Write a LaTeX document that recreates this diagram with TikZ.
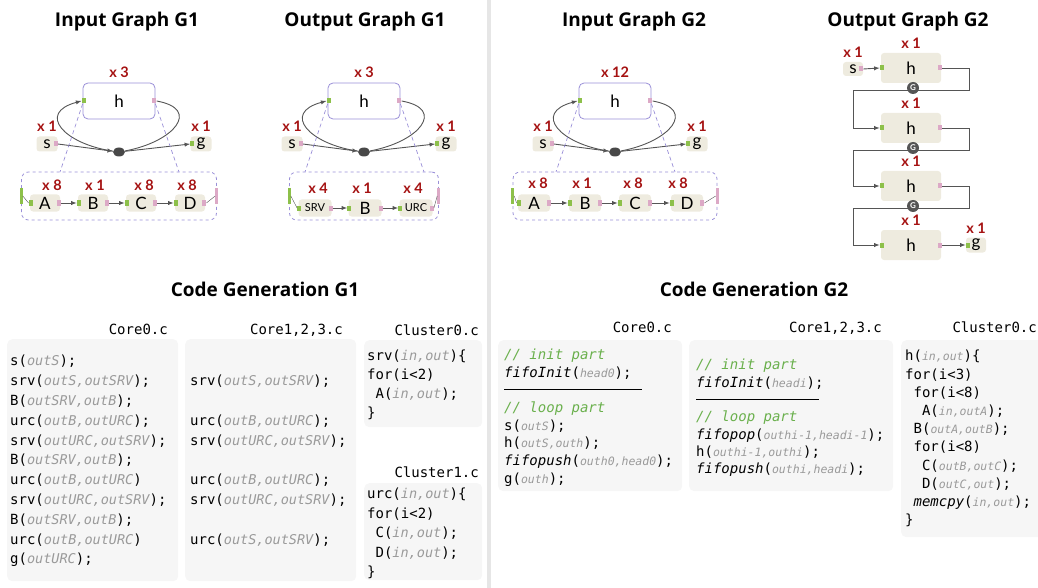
\documentclass[tikz,border=0pt]{standalone}
\usepackage{fontspec}
\setmainfont{Lato}
\setmonofont{DejaVu Sans Mono}
\newfontfamily\titlefont{Open Sans}
\usetikzlibrary{positioning,calc,shapes.geometric}

\definecolor{opfill}{HTML}{EEEBDF}
\definecolor{portgreen}{HTML}{8DC04A}
\definecolor{portpink}{HTML}{DCA9C6}
\definecolor{clpurple}{HTML}{9A90D8}
\definecolor{multred}{HTML}{A51212}
\definecolor{wiregray}{HTML}{555555}
\definecolor{codebg}{HTML}{F6F6F6}
\definecolor{argray}{HTML}{9A9A9A}
\definecolor{cmtgreen}{HTML}{6AB04C}
\definecolor{sepgray}{HTML}{E6E6E6}

\newcommand\fa[1]{{\fontsize{13.5}{13.5}\selectfont\itshape\color{argray}#1}}
\newcommand\fb[1]{{\fontsize{11.5}{11.5}\selectfont\itshape\color{argray}#1}}
\newcommand\cmt[1]{{\itshape\color{cmtgreen}#1}}
\newcommand\ind{\hphantom{x}}

\begin{document}
\begin{tikzpicture}[x=1pt,y=-1pt,
  wire/.style={draw=wiregray,line width=0.9pt},
  ar/.style={wire,->,>=latex},
  op/.style={rectangle,rounded corners=3pt,fill=opfill,inner sep=0pt,font=\fontsize{17}{17}\selectfont},
  hbox/.style={op,fill=white,draw=clpurple,line width=0.8pt,rounded corners=5pt,minimum width=72,minimum height=36},
  inport/.style={fill=portgreen,inner sep=0pt,minimum width=4,minimum height=5},
  outport/.style={fill=portpink,inner sep=0pt,minimum width=4,minimum height=5},
  dot/.style={ellipse,fill=wiregray!85!black,inner sep=0pt,minimum width=12,minimum height=9},
  mult/.style={text=multred,inner sep=0pt,font=\bfseries\fontsize{14.5}{14.5}\selectfont},
  title/.style={anchor=base,font=\titlefont\bfseries\fontsize{19}{19}\selectfont},
  cluster/.style={draw=clpurple,dashed,rounded corners=7pt,line width=0.8pt},
  zoomline/.style={draw=clpurple,dash pattern=on 4pt off 3pt,line width=0.7pt},
  gicon/.style={circle,fill=wiregray,text=white,inner sep=0pt,minimum size=12,font=\bfseries\fontsize{8}{8}\selectfont},
  codebox/.style={fill=codebg,rounded corners=5pt,inner sep=0pt,anchor=north west},
  code/.style={font=\ttfamily\fontsize{14}{19.8}\selectfont,align=left,inner sep=0pt,anchor=north west},
  file/.style={font=\ttfamily\fontsize{14}{14}\selectfont,inner sep=0pt,anchor=base east}]
\useasboundingbox (0,0) rectangle (1038,588);
\fill[sepgray] (487,0) rectangle (491,588);

% titles
\node[title] (t1) at (127,27) {Input Graph G1};
\node[title] (t2) at (365,27) {Output Graph G1};
\node[title] (t3) at (634,27) {Input Graph G2};
\node[title] (t4) at (908,27) {Output Graph G2};
\node[title] (t5) at (265,296) {Code Generation G1};
\node[title] (t6) at (754,296) {Code Generation G2};

% h, s, g and the loop of the three first graphs
\foreach \p/\px/\m/\cw in {1/119/3/195, 2/364/3/149, 3/615/12/204}{
  \begin{scope}[shift={(\px,101)}]
    \node[hbox] (h\p) at (0,0) {h};
    \node[inport] (hi\p) at ([xshift=1]h\p.west) {};
    \node[outport] (ho\p) at ([xshift=-1]h\p.east) {};
    \node[mult,above=5pt of h\p] (hm\p) {x \m};
    \node[op,minimum width=21,minimum height=15] (s\p) at (-72,43) {s};
    \node[outport] (so\p) at ([xshift=-2]s\p.east) {};
    \node[mult,above=5pt of s\p] (sm\p) {x 1};
    \node[op,minimum width=21,minimum height=15] (g\p) at (82,43) {g};
    \node[inport] (gi\p) at ([xshift=2]g\p.west) {};
    \node[mult,above=5pt of g\p] (gm\p) {x 1};
    \node[dot] (dot\p) at (0,51) {};
    \draw[ar] (so\p.east) -- (dot\p);
    \draw[ar] (dot\p) -- (gi\p.west);
    \draw[ar] (dot\p) .. controls +(-55,-8) and +(-45,12) .. (hi\p.west);
    \draw[wire] (ho\p.east) .. controls +(45,8) and +(55,-10) .. (dot\p);
    \node[cluster,minimum width=\cw,minimum height=48] (cl\p) at (0,95) {};
    \node[inport,minimum width=3,minimum height=16] (ci\p) at (cl\p.west) {};
    \node[outport,minimum width=3,minimum height=16] (co\p) at (cl\p.east) {};
    \coordinate (dl\p) at (-59,71);
    \coordinate (dr\p) at (60,71);
    \draw[zoomline] (hi\p) -- (dl\p);
    \draw[zoomline] (ho\p) -- (dr\p);
  \end{scope}
}

% inside the clusters
\foreach \n/\x/\lx/\k in {A/45/52/8, B/93/95/1, C/141/144/8, D/190/187/8}{
  \node[op,minimum width=30,minimum height=17] (\n1) at (\x,203) {\n};
  \node[inport] (\n1i) at ([xshift=1]\n1.west) {};
  \node[outport] (\n1o) at ([xshift=-1]\n1.east) {};
  \node[mult] (\n1m) at (\lx,185) {x \k};
}
\foreach \n/\x/\lx/\k/\f in {SRV/315/318/4/11, B/365/362/1/17, URC/416/413/4/11}{
  \node[op,minimum width=33,minimum height=17,font=\fontsize{\f}{\f}\selectfont] (\n2) at (\x,208) {\n};
  \node[inport] (\n2i) at ([xshift=1]\n2.west) {};
  \node[outport] (\n2o) at ([xshift=-1]\n2.east) {};
  \node[mult] (\n2m) at (\lx,188) {x \k};
}
\foreach \n/\x/\lx/\k in {A/534/538/8, B/585/582/1, C/635/633/8, D/687/678/8}{
  \node[op,minimum width=32,minimum height=17] (\n3) at (\x,203) {\n};
  \node[inport] (\n3i) at ([xshift=1]\n3.west) {};
  \node[outport] (\n3o) at ([xshift=-1]\n3.east) {};
  \node[mult] (\n3m) at (\lx,183) {x \k};
}
\draw[ar] (A1o.east) -- (B1i.west);
\draw[ar] (B1o.east) -- (C1i.west);
\draw[ar] (C1o.east) -- (D1i.west);
\draw[wire,thin] (ci1.east) -- (A1i.west);
\draw[wire,thin] (D1o.east) -- (co1.west);
\draw[ar] (SRV2o.east) -- (B2i.west);
\draw[ar] (B2o.east) -- (URC2i.west);
\draw[wire,thin] (ci2.east) -- (SRV2i.west);
\draw[wire,thin] (URC2o.east) -- (co2.west);
\draw[ar] (A3o.east) -- (B3i.west);
\draw[ar] (B3o.east) -- (C3i.west);
\draw[ar] (C3o.east) -- (D3i.west);
\draw[wire,thin] (ci3.east) -- (A3i.west);
\draw[wire,thin] (D3o.east) -- (co3.west);

% output graph G2
\foreach \i/\y in {1/68, 2/128, 3/186, 4/245}{
  \node[op,minimum width=60,minimum height=30] (H\i) at (911,\y) {h};
  \node[inport] (Hi\i) at ([xshift=1]H\i.west) {};
  \node[outport] (Ho\i) at ([xshift=-1]H\i.east) {};
  \node[mult,above=4pt of H\i] (Hm\i) {x 1};
}
\node[op,minimum width=20,minimum height=14] (s4) at (853,69) {s};
\node[outport] (so4) at ([xshift=-2]s4.east) {};
\node[mult,above=4pt of s4] (sm4) {x 1};
\node[op,minimum width=20,minimum height=15] (g4) at (976,245) {g};
\node[inport] (gi4) at ([xshift=2]g4.west) {};
\node[mult,above=4pt of g4] (gm4) {x 1};
\draw[ar] (so4.east) -- (Hi1.west);
\draw[ar] (Ho4.east) -- (gi4.west);
\foreach \i/\j/\y in {1/2/90, 2/3/150, 3/4/208}{
  \coordinate (wr\i) at (969,\y);
  \coordinate (wl\i) at (853,\y);
  \draw[ar] (Ho\i.east) -| (wr\i) -- (wl\i) |- (Hi\j.west);
  \node[gicon] (G\i) at (913,\y-2) {G};
}

% code generation G1
\node[codebox,minimum width=171,minimum height=242] (c1core0) at (7,339) {};
\node[file] (c1core0lb) at (168,334) {Core0.c};
\node[code] (c1core0tx) at (10,355) {s(\fa{outS});\\
srv(\fa{outS,outSRV});\\
B(\fa{outSRV,outB});\\
urc(\fa{outB,outURC});\\
srv(\fa{outURC,outSRV});\\
B(\fa{outSRV,outB});\\
urc(\fa{outB,outURC})\\
srv(\fa{outURC,outSRV});\\
B(\fa{outSRV,outB});\\
urc(\fa{outB,outURC})\\
g(\fa{outURC});};
\node[codebox,minimum width=171,minimum height=242] (c1core123) at (185,339) {};
\node[file] (c1core123lb) at (343,334) {Core1,2,3.c};
\node[code] (c1core123tx) at (190,355) {\vphantom{(}\\
srv(\fa{outS,outSRV});\\
\vphantom{(}\\
urc(\fa{outB,outURC});\\
srv(\fa{outURC,outSRV});\\
\vphantom{(}\\
urc(\fa{outB,outURC});\\
srv(\fa{outURC,outSRV});\\
\vphantom{(}\\
urc(\fa{outS,outSRV});};
\node[codebox,minimum width=118,minimum height=87] (c1cl0) at (364,340) {};
\node[file] (c1cl0lb) at (479,335) {Cluster0.c};
\node[code,font=\ttfamily\fontsize{14}{19}\selectfont] (c1cl0tx) at (367,350) {srv(\fa{in,out})\{\\
for(i<2)\\
\ind A(\fa{in,out});\\
\}};
\node[codebox,minimum width=118,minimum height=97] (c1cl1) at (364,483) {};
\node[file] (c1cl1lb) at (479,477) {Cluster1.c};
\node[code,font=\ttfamily\fontsize{14}{19.5}\selectfont] (c1cl1tx) at (367,488) {urc(\fa{in,out})\{\\
for(i<2)\\
\ind C(\fa{in,out});\\
\ind D(\fa{in,out});\\
\}};

% code generation G2
\node[codebox,minimum width=184,minimum height=151] (c2core0) at (498,340) {};
\node[file] (c2core0lb) at (672,332) {Core0.c};
\node[code,font=\ttfamily\fontsize{14}{17.6}\selectfont] (c2core0tx) at (504,349) {\cmt{// init part}\\
\textit{fifoInit}(\fb{head0});\\
\rule[5pt]{138pt}{0.7pt}\\
\cmt{// loop part}\\
s(\fb{outS});\\
h(\fb{outS,outh});\\
\textit{fifopush}(\fb{outh0,head0});\\
g(\fb{outh});};
\node[codebox,minimum width=204,minimum height=151] (c2core123) at (689,340) {};
\node[file] (c2core123lb) at (882,332) {Core1,2,3.c};
\node[code,font=\ttfamily\fontsize{14}{17.3}\selectfont] (c2core123tx) at (696,359) {\cmt{// init part}\\
\textit{fifoInit}(\fb{headi});\\
\rule[5pt]{123pt}{0.7pt}\\
\cmt{// loop part}\\
\textit{fifopop}(\fb{outhi-1,headi-1});\\
h(\fb{outhi-1,outhi});\\
\textit{fifopush}(\fb{outhi,headi});};
\node[codebox,minimum width=145,minimum height=197] (c2cl0) at (901,340) {};
\node[file] (c2cl0lb) at (1037,332) {Cluster0.c};
\node[code,font=\ttfamily\fontsize{14}{18.2}\selectfont] (c2cl0tx) at (905,350) {h(\fb{in,out})\{\\
for(i<3)\\
\ind for(i<8)\\
\ind\ind A(\fb{in,outA});\\
\ind B(\fb{outA,outB});\\
\ind for(i<8)\\
\ind\ind C(\fb{outB,outC});\\
\ind\ind D(\fb{outC,out});\\
\ind\textit{memcpy}(\fb{in,out});\\
\}};
\end{tikzpicture}
\end{document}
